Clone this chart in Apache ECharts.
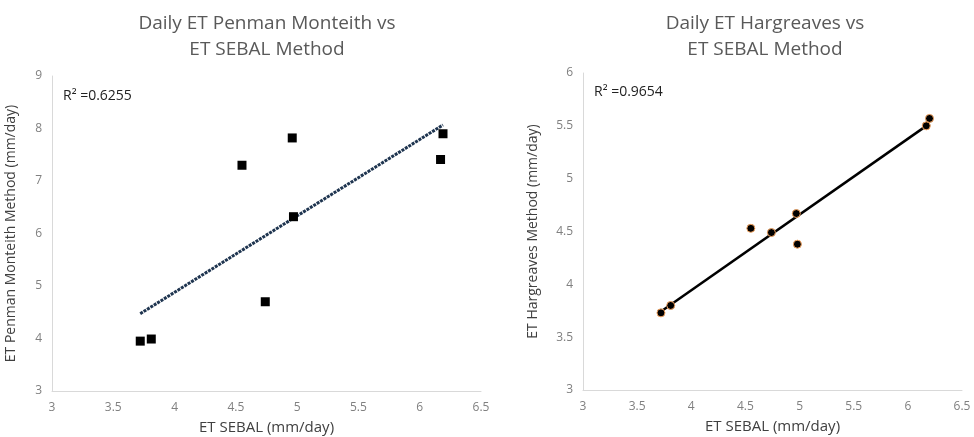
<!DOCTYPE html>
<html>
<head>
<meta charset="utf-8">
<script src="https://cdn.jsdelivr.net/npm/echarts@6/dist/echarts.min.js"></script>
<style>
  html, body { margin: 0; padding: 0; background: #fff; }
  #chart { width: 974px; height: 437px; }
</style>
</head>
<body>
<div id="chart"></div>
<script>
// ET SEBAL (mm/day), x values of each chart
var sebalPM = [3.72, 3.81, 4.55, 4.74, 4.96, 4.97, 6.17, 6.19]
var sebalHG = [3.72, 3.81, 4.55, 4.74, 4.97, 4.98, 6.17, 6.20]
// ET Penman Monteith (mm/day)
var penmanMonteith = [3.95, 3.99, 7.30, 4.70, 7.82, 6.32, 7.41, 7.90]
// ET Hargreaves (mm/day)
var hargreaves = [3.73, 3.80, 4.53, 4.49, 4.67, 4.38, 5.50, 5.57]

var r2Labels = ['R² =0.6255', 'R² =0.9654']
var titles = ['Daily ET Penman Monteith vs\nET SEBAL Method', 'Daily ET Hargreaves vs\nET SEBAL Method']
var yNames = ['ET Penman Monteith Method (mm/day)', 'ET Hargreaves Method (mm/day)']
var xName = 'ET SEBAL (mm/day)'

var FONT = '"Open Sans", "Noto Sans", sans-serif'

function pairs (xs, ys) {
  return xs.map(function (x, i) { return [x, ys[i]] })
}

// least squares trendline over the data range
function trend (xs, ys) {
  var n = xs.length
  var mx = xs.reduce(function (a, b) { return a + b }, 0) / n
  var my = ys.reduce(function (a, b) { return a + b }, 0) / n
  var sxy = 0, sxx = 0
  for (var i = 0; i < n; i++) {
    sxy += (xs[i] - mx) * (ys[i] - my)
    sxx += (xs[i] - mx) * (xs[i] - mx)
  }
  var k = sxy / sxx
  var b = my - k * mx
  var x0 = Math.min.apply(null, xs)
  var x1 = Math.max.apply(null, xs)
  return [[x0, k * x0 + b], [x1, k * x1 + b]]
}

function xAxis (gridIndex) {
  return {
    type: 'value',
    gridIndex: gridIndex,
    min: 3,
    max: 6.5,
    interval: 0.5,
    name: xName,
    nameLocation: 'middle',
    nameGap: 29,
    nameTextStyle: { color: '#404040', fontSize: 15, fontFamily: FONT },
    axisLine: { show: true, lineStyle: { color: '#d9d9d9', width: 1 } },
    axisTick: { show: false },
    splitLine: { show: false },
    axisLabel: { color: '#808080', fontSize: 12, fontFamily: FONT, margin: 11 }
  }
}

function yAxis (gridIndex, min, max, interval, gap) {
  return {
    type: 'value',
    gridIndex: gridIndex,
    min: min,
    max: max,
    interval: interval,
    name: yNames[gridIndex],
    nameLocation: 'middle',
    nameGap: gap,
    nameTextStyle: { color: '#404040', fontSize: 14, fontFamily: FONT },
    axisLine: { show: true, lineStyle: { color: '#d9d9d9', width: 1 } },
    axisTick: { show: false },
    splitLine: { show: false },
    axisLabel: { color: '#808080', fontSize: 12, fontFamily: FONT, margin: 10 }
  }
}

var chart = echarts.init(document.getElementById('chart'))
chart.setOption({
  backgroundColor: '#fff',
  animation: false,
  title: [{
    text: titles[0],
    left: 262,
    top: 6,
    textAlign: 'center',
    textStyle: { color: '#595959', fontSize: 19, fontWeight: 'normal', fontFamily: FONT, lineHeight: 26 }
  }, {
    text: titles[1],
    left: 760,
    top: 6,
    textAlign: 'center',
    textStyle: { color: '#595959', fontSize: 19, fontWeight: 'normal', fontFamily: FONT, lineHeight: 26 }
  }],
  graphic: [{
    type: 'text',
    left: 63,
    top: 89,
    style: { text: r2Labels[0], fill: '#222', fontSize: 14, fontFamily: FONT }
  }, {
    type: 'text',
    left: 594,
    top: 85,
    style: { text: r2Labels[1], fill: '#222', fontSize: 14, fontFamily: FONT }
  }],
  grid: [
    { left: 52, top: 76, width: 429, height: 315, containLabel: false, outerBoundsMode: 'none' },
    { left: 583, top: 73, width: 379, height: 317, containLabel: false, outerBoundsMode: 'none' }
  ],
  xAxis: [xAxis(0), xAxis(1)],
  yAxis: [yAxis(0, 3, 9, 1, 34), yAxis(1, 3, 6, 0.5, 43)],
  series: [{
    type: 'line',
    xAxisIndex: 0,
    yAxisIndex: 0,
    data: trend(sebalPM, penmanMonteith),
    symbol: 'none',
    lineStyle: { color: '#1f3550', width: 3, type: [3, 1] },
    z: 1
  }, {
    type: 'scatter',
    xAxisIndex: 0,
    yAxisIndex: 0,
    data: pairs(sebalPM, penmanMonteith),
    symbol: 'rect',
    symbolSize: 9,
    itemStyle: { color: '#000', opacity: 1 },
    z: 2
  }, {
    type: 'line',
    xAxisIndex: 1,
    yAxisIndex: 1,
    data: trend(sebalHG, hargreaves),
    symbol: 'none',
    lineStyle: { color: '#000', width: 2.5 },
    z: 1
  }, {
    type: 'scatter',
    xAxisIndex: 1,
    yAxisIndex: 1,
    data: pairs(sebalHG, hargreaves),
    symbol: 'circle',
    symbolSize: 8,
    itemStyle: { color: '#000', borderColor: '#f4a460', borderWidth: 1, opacity: 1 },
    z: 2
  }]
})
</script>
</body>
</html>
